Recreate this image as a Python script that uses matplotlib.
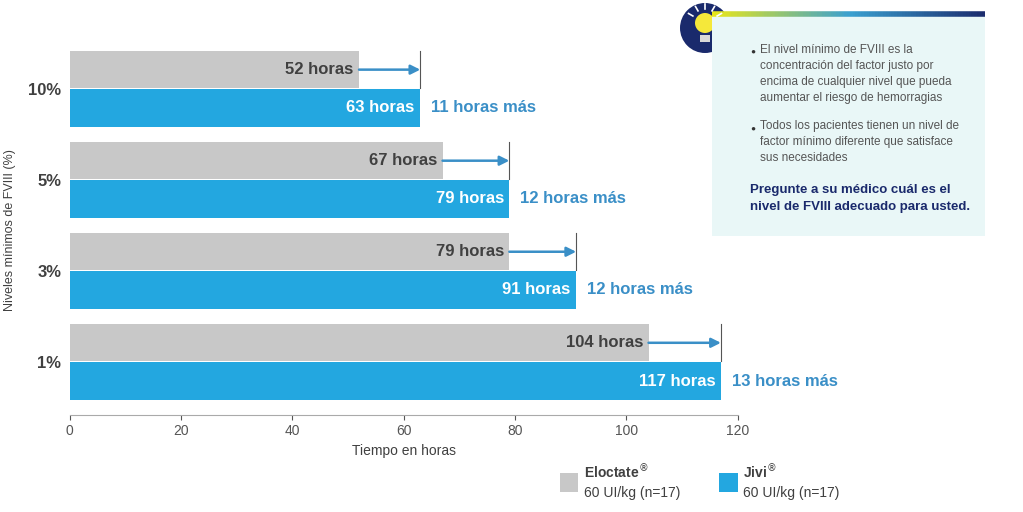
import numpy as np
import matplotlib.pyplot as plt
from matplotlib.patches import Rectangle, Circle, Polygon
from matplotlib.collections import LineCollection

levels = ["1%", "3%", "5%", "10%"]
eloctate = [104, 79, 67, 52]
jivi = [117, 91, 79, 63]
extra = ["13 horas más", "12 horas más", "12 horas más", "11 horas más"]

GRAY = "#c8c8c8"
BLUE = "#23a7e0"
ARROW = "#3a8fc7"
TXT = "#404040"
NAVY = "#1a2a6c"

plt.rcParams['font.family'] = ['Liberation Sans', 'DejaVu Sans']

fig = plt.figure(figsize=(10.23, 5.12), dpi=100)
ax = fig.add_axes([0.068, 0.19, 0.653, 0.722])

y = np.arange(len(levels))
h = 0.41
ax.barh(y, jivi, height=h, color=BLUE)
ax.barh(y + 0.42, eloctate, height=h, color=GRAY)
for i in range(len(levels)):
    ax.text(eloctate[i] - 1, y[i] + 0.42, f"{eloctate[i]} horas", ha="right", va="center",
            fontsize=12, fontweight="bold", color=TXT)
    ax.text(jivi[i] - 1, y[i], f"{jivi[i]} horas", ha="right", va="center",
            fontsize=12, fontweight="bold", color="white")
    ax.text(jivi[i] + 2, y[i], extra[i], ha="left", va="center",
            fontsize=12, fontweight="bold", color=ARROW)
    ax.annotate("", xy=(jivi[i], y[i] + 0.42), xytext=(eloctate[i], y[i] + 0.42),
                arrowprops=dict(arrowstyle="-|>", color=ARROW, lw=1.8, mutation_scale=14,
                                shrinkA=0, shrinkB=0))
    ax.plot([jivi[i], jivi[i]], [y[i] + 0.42 - h / 2, y[i] + 0.42 + h / 2], color="#555555", lw=0.8)

ax.set_xlim(0, 120)
ax.set_ylim(-0.37, 3.69)
ax.set_xticks(range(0, 121, 20))
ax.set_yticks(y + 0.21)
ax.set_yticklabels(levels, fontsize=12, fontweight="bold", color=TXT)
ax.tick_params(axis="y", length=0, pad=6)
ax.tick_params(axis="x", colors="#555555", labelsize=10)
for s in ["top", "right", "left"]:
    ax.spines[s].set_visible(False)
ax.spines["bottom"].set_color("#aaaaaa")
ax.set_xlabel("Tiempo en horas", fontsize=10, color=TXT)
fig.text(0.01, 0.55, "Niveles mínimos de FVIII (%)", rotation=90, va="center", ha="center",
         fontsize=9, color=TXT)

# info box
fig.patches.append(Rectangle((0.696, 0.54), 0.267, 0.43, transform=fig.transFigure,
                             facecolor="#e9f7f7", edgecolor="none"))
grad = np.linspace(0, 1, 100)
xs = 0.696 + 0.267 * grad
segs = [[(xs[k], 0.972), (xs[k + 1], 0.972)] for k in range(99)]
cmap = plt.matplotlib.colors.LinearSegmentedColormap.from_list("g", ["#e8e61a", "#3aa0d0", NAVY])
fig.add_artist(LineCollection(segs, colors=cmap(grad[:-1]), linewidths=4, transform=fig.transFigure))
fig.add_artist(Circle((705, 484), 25, transform=None, facecolor=NAVY, edgecolor="none"))
fig.add_artist(Circle((705, 489), 10, transform=None, facecolor="#f5e83a", edgecolor="none"))
fig.add_artist(Rectangle((700, 470), 10, 7, transform=None, facecolor="#d9d9d9", edgecolor="none"))
for ang in np.linspace(30, 150, 5):
    a = np.radians(ang)
    fig.add_artist(plt.Line2D([705 + 14 * np.cos(a), 705 + 19 * np.cos(a)],
                              [489 + 14 * np.sin(a), 489 + 19 * np.sin(a)],
                              transform=None, color="white", lw=1.2))

b1 = "El nivel mínimo de FVIII es la\nconcentración del factor justo por\nencima de cualquier nivel que pueda\naumentar el riesgo de hemorragias"
b2 = "Todos los pacientes tienen un nivel de\nfactor mínimo diferente que satisface\nsus necesidades"
fig.text(0.733, 0.905, "●", fontsize=6, color="#333333", va="top")
fig.text(0.743, 0.915, b1, fontsize=8.5, color="#555555", va="top", linespacing=1.45)
fig.text(0.733, 0.755, "●", fontsize=6, color="#333333", va="top")
fig.text(0.743, 0.765, b2, fontsize=8.5, color="#555555", va="top", linespacing=1.45)
fig.text(0.733, 0.64, "Pregunte a su médico cuál es el\nnivel de FVIII adecuado para usted.",
         fontsize=9.5, fontweight="bold", color=NAVY, va="top", linespacing=1.55)

# legend
fig.patches.append(Rectangle((0.547, 0.04), 0.018, 0.037, transform=fig.transFigure,
                             facecolor=GRAY, edgecolor="none"))
fig.text(0.571, 0.078, "Eloctate$^{®}$", fontsize=10, fontweight="bold", color=TXT, va="center")
fig.text(0.571, 0.038, "60 UI/kg (n=17)", fontsize=10, color=TXT, va="center")
fig.patches.append(Rectangle((0.703, 0.04), 0.018, 0.037, transform=fig.transFigure,
                             facecolor=BLUE, edgecolor="none"))
fig.text(0.726, 0.078, "Jivi$^{®}$", fontsize=10, fontweight="bold", color=TXT, va="center")
fig.text(0.726, 0.038, "60 UI/kg (n=17)", fontsize=10, color=TXT, va="center")

fig.savefig("out.png", dpi=100)
